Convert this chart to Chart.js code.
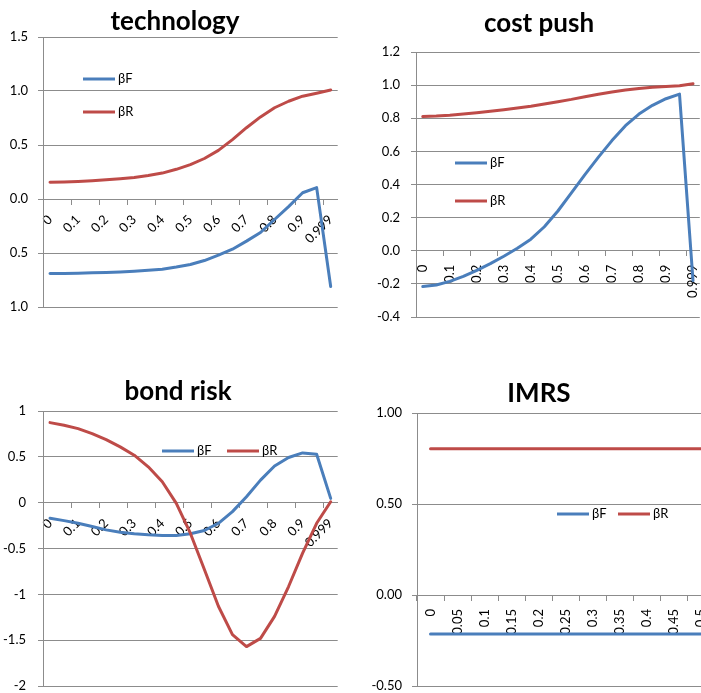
<!DOCTYPE html>
<html>
<head>
<meta charset="utf-8">
<script src="https://cdn.jsdelivr.net/npm/chart.js@4"></script>
<style>
  html, body { margin: 0; padding: 0; overflow: hidden; background: #fff; }
  body { width: 701px; height: 693px; position: relative; }
  canvas { position: absolute; }
</style>
</head>
<body>
<canvas id="tech" width="350" height="330" style="left:0;top:0"></canvas>
<canvas id="cost" width="358" height="345" style="left:360px;top:0"></canvas>
<canvas id="bond" width="350" height="340" style="left:0;top:370px"></canvas>
<canvas id="imrs" width="640" height="340" style="left:360px;top:370px"></canvas>
<script>
// quantiles on the category axis
const categories = ['0', '0.05', '0.1', '0.15', '0.2', '0.25', '0.3', '0.35', '0.4', '0.45', '0.5',
  '0.55', '0.6', '0.65', '0.7', '0.75', '0.8', '0.85', '0.9', '0.95', '0.999'];

const techBetaF = [-0.69, -0.689, -0.687, -0.684, -0.68, -0.675, -0.668, -0.66, -0.65, -0.63, -0.606,
  -0.57, -0.52, -0.465, -0.39, -0.31, -0.19, -0.07, 0.058, 0.105, -0.81];
const techBetaR = [0.155, 0.158, 0.163, 0.17, 0.178, 0.188, 0.2, 0.218, 0.24, 0.275, 0.318,
  0.375, 0.45, 0.55, 0.66, 0.76, 0.845, 0.905, 0.952, 0.98, 1.01];

const costBetaF = [-0.216, -0.207, -0.185, -0.155, -0.118, -0.078, -0.033, 0.015, 0.07, 0.145, 0.24,
  0.35, 0.46, 0.565, 0.665, 0.755, 0.825, 0.878, 0.918, 0.946, -0.18];
const costBetaR = [0.81, 0.813, 0.818, 0.825, 0.833, 0.842, 0.852, 0.862, 0.873, 0.886, 0.9,
  0.914, 0.93, 0.945, 0.958, 0.97, 0.98, 0.987, 0.992, 0.996, 1.008];

const bondBetaF = [-0.17, -0.196, -0.225, -0.26, -0.297, -0.322, -0.34, -0.351, -0.358, -0.358, -0.34,
  -0.304, -0.225, -0.098, 0.065, 0.246, 0.4, 0.493, 0.543, 0.529, 0.047];
const bondBetaR = [0.873, 0.844, 0.808, 0.754, 0.688, 0.609, 0.518, 0.391, 0.228, -0.007, -0.333,
  -0.73, -1.13, -1.44, -1.57, -1.48, -1.24, -0.915, -0.55, -0.225, 0.01];

const imrsBetaF = [-0.214, -0.214, -0.214, -0.214, -0.214, -0.214, -0.214, -0.214, -0.214, -0.214, -0.214,
  -0.214, -0.214, -0.214, -0.214, -0.214, -0.214, -0.214, -0.214, -0.214, -0.214];
const imrsBetaR = [0.804, 0.804, 0.804, 0.804, 0.804, 0.804, 0.804, 0.804, 0.804, 0.804, 0.804,
  0.804, 0.804, 0.804, 0.804, 0.804, 0.804, 0.804, 0.804, 0.804, 0.804];

// y tick values
const techYTicks = [-1, -0.5, 0, 0.5, 1, 1.5];
const costYTicks = [-0.4, -0.2, 0, 0.2, 0.4, 0.6, 0.8, 1.0, 1.2];
const bondYTicks = [-2, -1.5, -1, -0.5, 0, 0.5, 1];
const imrsYTicks = [-0.5, 0, 0.5, 1];

const BLUE = '#4a7ebb';
const RED = '#be4b48';
const GRID = '#8c8c8c';

Chart.defaults.font.family = 'Lato';
Chart.defaults.font.size = 13;
Chart.defaults.color = '#000';

// title drawn at a fixed spot of each panel
const panelTitle = {
  id: 'panelTitle',
  afterDraw(chart, args, opts) {
    const ctx = chart.ctx;
    ctx.save();
    ctx.font = 'bold 26px Lato';
    ctx.fillStyle = '#000';
    ctx.textAlign = 'center';
    ctx.textBaseline = 'alphabetic';
    ctx.fillText(opts.text, opts.x, opts.y);
    ctx.restore();
  }
};

// Excel style legend floating inside the plot
const floatLegend = {
  id: 'floatLegend',
  afterDatasetsDraw(chart, args, opts) {
    const ctx = chart.ctx;
    let x = opts.x, y = opts.y;
    ctx.save();
    ctx.font = '13px Lato';
    ctx.textBaseline = 'middle';
    chart.data.datasets.forEach(ds => {
      ctx.strokeStyle = ds.borderColor;
      ctx.lineWidth = 3;
      ctx.beginPath();
      ctx.moveTo(x, y);
      ctx.lineTo(x + 32, y);
      ctx.stroke();
      ctx.fillStyle = '#000';
      ctx.fillText(ds.label, x + 35, y);
      if (opts.horizontal) x += opts.step; else y += opts.step;
    });
    ctx.restore();
  }
};

function panel(id, o) {
  new Chart(document.getElementById(id), {
    type: 'line',
    data: {
      labels: categories,
      datasets: [
        { label: 'βF', data: o.f, borderColor: BLUE, order: 1 },
        { label: 'βR', data: o.r, borderColor: RED, order: 0 }
      ]
    },
    plugins: [panelTitle, floatLegend],
    options: {
      responsive: false,
      animation: false,
      layout: { padding: o.pad },
      elements: {
        line: { borderWidth: 3, tension: 0, borderCapStyle: 'round', borderJoinStyle: 'round' },
        point: { radius: 0 }
      },
      plugins: {
        legend: { display: false },
        tooltip: { enabled: false },
        panelTitle: o.title,
        floatLegend: o.legend
      },
      scales: {
        x: {
          type: 'category',
          offset: true,
          position: { y: 0 },
          border: { color: GRID, width: 1 },
          grid: {
            drawOnChartArea: false,
            offset: true,
            tickLength: 5,
            color: ctx => (ctx.index % o.tickEvery === 0 ? GRID : 'rgba(0,0,0,0)')
          },
          ticks: {
            autoSkip: false,
            maxRotation: o.rot,
            minRotation: o.rot,
            padding: o.xpad,
            callback: (v, i) => (i % o.tickEvery === 0 ? categories[i] : '')
          }
        },
        y: {
          min: o.yTicks[0],
          max: o.yTicks[o.yTicks.length - 1],
          afterBuildTicks: s => { s.ticks = o.yTicks.map(v => ({ value: v })); },
          afterFit: s => { s.width = o.yWidth; },
          border: { color: GRID, width: 1 },
          grid: { color: GRID, tickLength: 5 },
          ticks: { padding: o.ypad, callback: o.fmt }
        }
      }
    }
  });
}

panel('tech', {
  f: techBetaF, r: techBetaR, yTicks: techYTicks,
  fmt: v => Math.abs(v).toFixed(1),
  pad: { top: 37, right: 12, bottom: 23, left: 0 }, yWidth: 43, ypad: 10,
  rot: 45, xpad: 8, tickEvery: 2,
  title: { text: 'technology', x: 175, y: 30 },
  legend: { x: 83, y: 79, step: 33 }
});

panel('cost', {
  f: costBetaF, r: costBetaR, yTicks: costYTicks,
  fmt: v => v.toFixed(1),
  pad: { top: 52, right: 16, bottom: 28, left: 0 }, yWidth: 56, ypad: 11,
  rot: 90, xpad: 9, tickEvery: 2,
  title: { text: 'cost push', x: 179, y: 32 },
  legend: { x: 95, y: 163, step: 38 }
});

panel('bond', {
  f: bondBetaF, r: bondBetaR, yTicks: bondYTicks,
  fmt: v => String(v),
  pad: { top: 41, right: 12, bottom: 24, left: 0 }, yWidth: 43, ypad: 12,
  rot: 45, xpad: 8, tickEvery: 2,
  title: { text: 'bond risk', x: 178, y: 30 },
  legend: { x: 162, y: 81, step: 65, horizontal: true }
});

panel('imrs', {
  f: imrsBetaF, r: imrsBetaR, yTicks: imrsYTicks,
  fmt: v => v.toFixed(2),
  pad: { top: 43, right: 15, bottom: 24, left: 0 }, yWidth: 57, ypad: 10,
  rot: 90, xpad: 9, tickEvery: 1,
  title: { text: 'IMRS', x: 179, y: 32 },
  legend: { x: 197, y: 144, step: 61, horizontal: true }
});
</script>
</body>
</html>
